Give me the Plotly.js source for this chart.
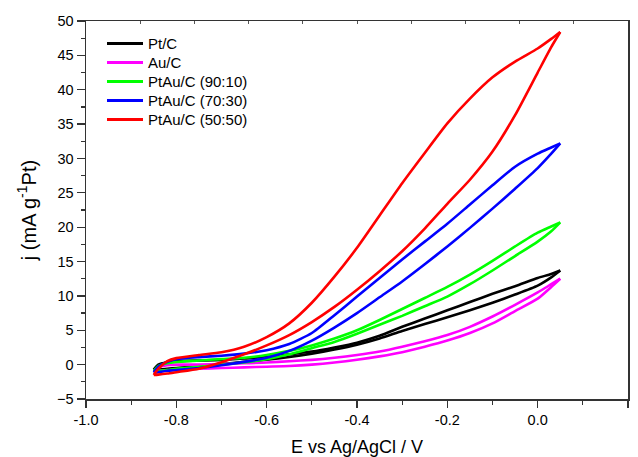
<!DOCTYPE html>
<html>
<head>
<meta charset="utf-8">
<script src="https://cdn.plot.ly/plotly-3.0.1.min.js"></script>
<style>html,body{margin:0;padding:0;background:#fff;}#chart{width:638px;height:457px;}</style>
</head>
<body>
<div id="chart"></div>
<script>
// Potential grid (V vs Ag/AgCl), ascending
const potential = [-0.85,-0.84,-0.82,-0.8,-0.75,-0.7,-0.65,-0.6,-0.55,-0.5,-0.45,-0.4,-0.35,-0.3,-0.25,-0.2,-0.15,-0.1,-0.05,0,0.03,0.05];

const seriesNames = ["Pt/C", "Au/C", "PtAu/C (90:10)", "PtAu/C (70:30)", "PtAu/C (50:50)"];

// Upper branch of each loop (mA g-1 Pt)
const ptcUpper   = [-0.7,0.0,0.35,0.5,0.6,0.7,0.9,1.1,1.5,1.9,2.5,3.2,4.2,5.5,6.7,7.9,9.1,10.3,11.4,12.6,13.2,13.7];
const aucUpper   = [-0.9,-0.4,-0.1,0.0,0.0,0.1,0.2,0.3,0.5,0.7,1.0,1.4,1.9,2.6,3.4,4.3,5.5,7.0,8.7,10.5,11.7,12.5];
const pt90Upper  = [-0.9,-0.2,0.2,0.4,0.6,0.8,1.0,1.4,2.0,2.8,3.8,5.0,6.5,8.1,9.7,11.3,13.1,15.1,17.2,19.2,20.1,20.7];
const pt70Upper  = [-1.1,-0.3,0.4,0.8,1.1,1.3,1.6,2.1,3.0,4.6,7.2,9.9,12.6,15.3,17.9,20.5,23.3,26.1,28.8,30.7,31.6,32.2];
const pt50Upper  = [-1.5,-0.6,0.5,0.95,1.4,1.8,2.6,4.0,6.0,9.0,12.8,17.0,21.7,26.4,30.8,35.1,38.7,41.8,44.1,46.0,47.4,48.4];

// Lower branch of each loop (same potential order)
const ptcLower   = [-0.8,-0.7,-0.6,-0.5,-0.2,0.1,0.4,0.7,1.1,1.6,2.2,2.9,3.8,4.9,5.9,6.9,7.9,9.0,10.2,11.5,12.7,13.7];
const aucLower   = [-1.0,-0.9,-0.8,-0.7,-0.6,-0.5,-0.4,-0.3,-0.2,0.0,0.3,0.7,1.2,1.8,2.6,3.5,4.6,6.0,7.8,9.6,11.3,12.5];
const pt90Lower  = [-1.0,-0.9,-0.8,-0.6,-0.3,0.0,0.3,0.8,1.5,2.4,3.3,4.5,5.8,7.1,8.5,9.9,11.7,13.7,15.8,17.9,19.4,20.7];
const pt70Lower  = [-1.2,-1.1,-0.9,-0.8,-0.5,-0.1,0.4,1.0,2.0,3.5,5.4,7.5,9.8,12.1,14.6,17.2,19.9,22.7,25.6,28.6,30.7,32.2];
const pt50Lower  = [-1.5,-1.45,-1.3,-1.1,-0.6,0.35,1.5,2.8,4.3,6.2,8.4,10.9,13.6,16.5,19.8,23.4,26.9,31.0,36.3,42.5,46.2,48.4];

const xTickVals = [-1.0,-0.8,-0.6,-0.4,-0.2,0.0,0.2];
const xTickText = ["-1.0","-0.8","-0.6","-0.4","-0.2","0.0","0.2"];
const yTickVals = [-5,0,5,10,15,20,25,30,35,40,45,50];

const colors = ["#000000", "#ff00ff", "#00ff00", "#0000ff", "#ff0000"];
const uppers = [ptcUpper, aucUpper, pt90Upper, pt70Upper, pt50Upper];
const lowers = [ptcLower, aucLower, pt90Lower, pt70Lower, pt50Lower];

const font = "Liberation Sans, Arial, sans-serif";

const traces = seriesNames.map((name, i) => ({
  type: "scatter",
  mode: "lines",
  name: name,
  x: potential.concat([null], potential.slice().reverse()),
  y: uppers[i].concat([null], lowers[i].slice().reverse()),
  connectgaps: false,
  showlegend: false,
  line: {color: colors[i], width: 2.6, shape: "spline", smoothing: 0.6},
  hoverinfo: "skip"
}));

// helper traces so the frame axes (top and right) are drawn
traces.push({type: "scatter", x: [null], y: [null], xaxis: "x2", yaxis: "y", showlegend: false, hoverinfo: "skip"});
traces.push({type: "scatter", x: [null], y: [null], xaxis: "x", yaxis: "y2", showlegend: false, hoverinfo: "skip"});

// Legend (drawn in paper coordinates, same order as the series)
const plotW = 542, plotH = 378;
const legLineX0 = (107 - 86) / plotW, legLineX1 = (143 - 86) / plotW, legTextX = (146 - 86) / plotW;
const legTop = (399 - 43.5) / plotH, legStep = 19 / plotH;
const legendShapes = seriesNames.map((n, i) => ({
  type: "line", xref: "paper", yref: "paper",
  x0: legLineX0, x1: legLineX1, y0: legTop - i * legStep, y1: legTop - i * legStep,
  line: {color: colors[i], width: 3}
}));
const legendLabels = seriesNames.map((n, i) => ({
  xref: "paper", yref: "paper", x: legTextX, y: legTop - i * legStep,
  xanchor: "left", yanchor: "middle", showarrow: false, text: n,
  font: {family: font, size: 15, color: "#000"}
}));

const layout = {
  width: 638, height: 457,
  margin: {l: 86, r: 10, t: 21, b: 58},
  paper_bgcolor: "#ffffff", plot_bgcolor: "#ffffff",
  font: {family: font, size: 14, color: "#000"},
  showlegend: false,
  shapes: legendShapes,
  annotations: legendLabels,
  xaxis: {
    range: [-1.0, 0.2], tickvals: xTickVals, ticktext: xTickText,
    ticks: "outside", ticklen: 7, tickwidth: 1.2, tickcolor: "#333",
    minor: {dtick: 0.1, tick0: -1.0, ticks: "outside", ticklen: 4, tickwidth: 1.2, tickcolor: "#333", showgrid: false},
    showline: true, linewidth: 1.5, linecolor: "#333", mirror: false,
    showgrid: false, zeroline: false,
    tickfont: {family: font, size: 14.5, color: "#000"},
    title: {text: "E vs Ag/AgCl / V", font: {family: font, size: 18, color: "#000"}, standoff: 13}
  },
  xaxis2: {
    overlaying: "x", side: "top", anchor: "y", range: [0, 10], dtick: 1, tick0: 0,
    ticks: "inside", ticklen: 3, tickwidth: 1, tickcolor: "#555",
    showticklabels: false, showline: true, linewidth: 1.5, linecolor: "#333",
    showgrid: false, zeroline: false
  },
  yaxis: {
    range: [-5, 50], tickvals: yTickVals,
    ticks: "outside", ticklen: 8, tickwidth: 1.2, tickcolor: "#333",
    minor: {dtick: 2.5, tick0: -5, ticks: "outside", ticklen: 4, tickwidth: 1.2, tickcolor: "#333", showgrid: false},
    showline: true, linewidth: 1.5, linecolor: "#333",
    showgrid: false, zeroline: false,
    tickfont: {family: font, size: 14.5, color: "#000"},
    title: {text: "j (mA g<sup>-1</sup>Pt)", font: {family: font, size: 20, color: "#000"}, standoff: 15}
  },
  yaxis2: {
    overlaying: "y", side: "right", anchor: "x", range: [-5, 50],
    ticks: "", showticklabels: false, showline: true, linewidth: 2.2, linecolor: "#333",
    showgrid: false, zeroline: false
  }
};

Plotly.newPlot("chart", traces, layout, {displayModeBar: false, staticPlot: true});
</script>
</body>
</html>
